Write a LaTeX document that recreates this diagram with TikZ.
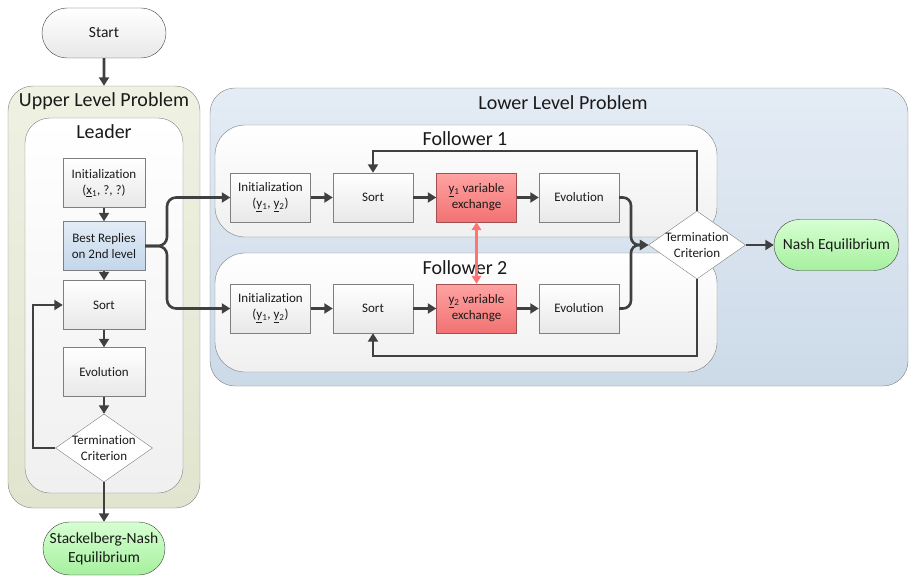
\documentclass[tikz,border=0pt]{standalone}
\usepackage{fontspec}
\setmainfont{Carlito}[Ligatures=NoCommon]
\usetikzlibrary{arrows.meta,shapes.geometric,shapes.misc}

\definecolor{linegray}{HTML}{404040}
\definecolor{boxgray}{HTML}{7F7F7F}
\definecolor{textdark}{HTML}{1A1A1A}
\definecolor{olivetop}{HTML}{EFF1E3}
\definecolor{olivebot}{HTML}{E1E5CF}
\definecolor{bluetop}{HTML}{E4ECF5}
\definecolor{bluebot}{HTML}{CCDAE8}
\definecolor{replytop}{HTML}{E2ECF6}
\definecolor{replybot}{HTML}{C3D6EA}
\definecolor{redtop}{HTML}{FFA3A3}
\definecolor{redbot}{HTML}{F27272}
\definecolor{redline}{HTML}{A05050}
\definecolor{greentop}{HTML}{D6FFD2}
\definecolor{greenbot}{HTML}{A6F09E}
\definecolor{swaparrow}{HTML}{FF7373}

\begin{document}
\begin{tikzpicture}[x=1pt, y=-1pt,
	box/.style={draw=boxgray, top color=white, bottom color=gray!18, minimum width=80pt,
		minimum height=49pt, inner sep=1pt, align=center, text=textdark,
		font=\fontsize{13}{16}\selectfont},
	replybox/.style={box, top color=replytop, bottom color=replybot},
	swapbox/.style={box, draw=redline, top color=redtop, bottom color=redbot},
	decision/.style={diamond, draw=boxgray, fill=white, inner sep=0pt, minimum width=97pt,
		minimum height=68pt},
	decisiontext/.style={align=center, text=textdark, font=\fontsize{13}{16}\selectfont},
	terminal/.style={rounded rectangle, draw=linegray, align=center, text=textdark,
		font=\fontsize{15.5}{19}\selectfont, inner sep=1pt},
	container/.style={draw=boxgray, rounded corners=25pt},
	title/.style={text=textdark, font=\fontsize{20}{24}\selectfont, inner sep=0pt},
	flow/.style={draw=linegray, line width=2.6pt, -{Triangle[length=8.5pt,width=10pt]}},
	swap/.style={draw=swaparrow, line width=2.5pt,
		{Triangle[length=8pt,width=9.5pt]}-{Triangle[length=8pt,width=9.5pt]}}]
	\useasboundingbox (0,0) rectangle (910,578);

	% containers
	\node [container, top color=olivetop, bottom color=olivebot, minimum width=192pt,
		minimum height=422pt] (upper) at (104,297) {};
	\node [container, top color=white, bottom color=gray!12, minimum width=158pt,
		minimum height=375pt] (leader) at (104,305.5) {};
	\node [container, top color=bluetop, bottom color=bluebot, minimum width=698pt,
		minimum height=298pt] (lower) at (559,237) {};
	\node [container, rounded corners=30pt, top color=white, bottom color=gray!12,
		minimum width=502pt, minimum height=112pt] (fol1) at (466,181) {};
	\node [container, rounded corners=30pt, top color=white, bottom color=gray!12,
		minimum width=502pt, minimum height=119pt] (fol2) at (466,312.5) {};
	\node [title] (uppertitle) at (104,101) {Upper Level Problem};
	\node [title] (leadertitle) at (104,132) {Leader};
	\node [title] (lowertitle) at (563,103) {Lower Level Problem};
	\node [title] (fol1title) at (465,139) {Follower 1};
	\node [title] (fol2title) at (465,268) {Follower 2};

	% start and leader
	\node [terminal, top color=white, bottom color=gray!18, minimum width=126pt,
		minimum height=50pt] (start) at (104,33) {Start};
	\node [box, minimum width=82pt] (linit) at (104,183) {Initialization\\(\underline{x}\textsubscript{1}, ?, ?)};
	\node [replybox, minimum width=82pt] (lbest) at (104,246) {Best Replies\\on 2nd level};
	\node [box, minimum width=82pt] (lsort) at (104,305) {Sort};
	\node [box, minimum width=82pt] (levo) at (104,372) {Evolution};
	\node [decision, label={[decisiontext]center:Termination\\Criterion}] (lterm) at (104,448) {};
	\node [terminal, top color=greentop, bottom color=greenbot, minimum width=124pt,
		minimum height=53pt] (stack) at (104,548.5) {Stackelberg-Nash\\Equilibrium};
	\coordinate (lloop) at (33,448);

	\draw [flow] (start) -- (upper.north);
	\draw [flow] (linit) -- (lbest);
	\draw [flow] (lbest) -- (lsort);
	\draw [flow] (lsort) -- (levo);
	\draw [flow] (levo) -- (lterm);
	\draw [flow] (lterm.west) -- (lloop) |- (lsort.west);
	\draw [flow] (lterm.south) -- (stack.north);

	% followers
	\node [box] (init1) at (270.5,197.5) {Initialization\\(\underline{y}\textsubscript{1}, \underline{y}\textsubscript{2})};
	\node [box] (sort1) at (373,197.5) {Sort};
	\node [swapbox] (swap1) at (476.5,197.5) {\underline{y}\textsubscript{1} variable\\exchange};
	\node [box] (evo1) at (579,197.5) {Evolution};
	\node [box] (init2) at (270.5,308.5) {Initialization\\(\underline{y}\textsubscript{1}, \underline{y}\textsubscript{2})};
	\node [box] (sort2) at (373,308.5) {Sort};
	\node [swapbox] (swap2) at (476.5,308.5) {\underline{y}\textsubscript{2} variable\\exchange};
	\node [box] (evo2) at (579,308.5) {Evolution};
	\node [decision, label={[decisiontext]center:Termination\\Criterion}] (term) at (697,245) {};
	\node [terminal, top color=greentop, bottom color=greenbot, minimum width=127pt,
		minimum height=51pt] (nash) at (836.5,245) {Nash Equilibrium};
	\coordinate (split) at (167,246);
	\coordinate (join) at (631,245);
	\coordinate (loop1) at (697,151);
	\coordinate (loop2) at (697,356);

	\draw [flow, rounded corners=9pt] (lbest.east) -- (split) |- (init1.west);
	\draw [flow, rounded corners=9pt] (lbest.east) -- (split) |- (init2.west);
	\draw [flow] (init1) -- (sort1);
	\draw [flow] (sort1) -- (swap1);
	\draw [flow] (swap1) -- (evo1);
	\draw [flow] (init2) -- (sort2);
	\draw [flow] (sort2) -- (swap2);
	\draw [flow] (swap2) -- (evo2);
	\draw [flow, rounded corners=8pt] (evo1.east) -| (join) -- (term.west);
	\draw [flow, rounded corners=8pt] (evo2.east) -| (join) -- (term.west);
	\draw [flow] (term.north) -- (loop1) -| (sort1.north);
	\draw [flow] (term.south) -- (loop2) -| (sort2.south);
	\draw [flow] (term) -- (nash);
	\draw [swap] (swap1) -- (swap2);
\end{tikzpicture}
\end{document}
